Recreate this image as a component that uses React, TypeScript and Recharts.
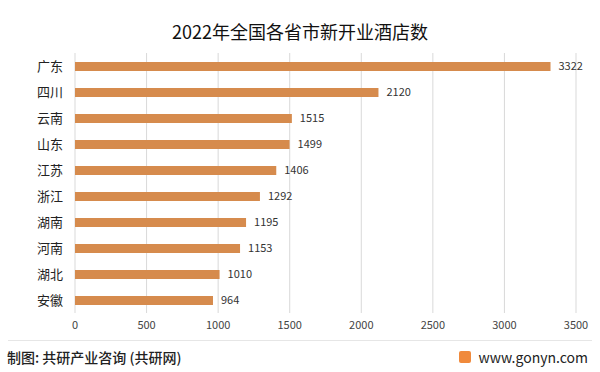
import { BarChart, Bar, XAxis, YAxis, CartesianGrid, LabelList } from "recharts";

const provinces = ["广东", "四川", "云南", "山东", "江苏", "浙江", "湖南", "河南", "湖北", "安徽"];
const hotels = [3322, 2120, 1515, 1499, 1406, 1292, 1195, 1153, 1010, 964];
const xTicks = [0, 500, 1000, 1500, 2000, 2500, 3000, 3500];

const data = provinces.map((name, i) => ({ name, value: hotels[i] }));

const FONT = "'Noto Sans CJK SC', 'Noto Sans', sans-serif";

export default function App() {
  return (
    <div
      style={{
        position: "absolute",
        top: 0,
        left: 0,
        width: 600,
        height: 372,
        background: "#fff",
        fontFamily: FONT,
      }}
    >
      <div
        style={{
          position: "absolute",
          top: 18,
          width: 600,
          textAlign: "center",
          fontSize: 18,
          color: "#111",
        }}
      >
        2022年全国各省市新开业酒店数
      </div>

      <BarChart
        width={600}
        height={372}
        data={data}
        layout="vertical"
        margin={{ top: 53, right: 24, bottom: 34, left: 0 }}
        barCategoryGap={0}
      >
        <CartesianGrid horizontal={false} stroke="#d9d9d9" />
        <XAxis
          type="number"
          domain={[0, 3500]}
          ticks={xTicks}
          axisLine={false}
          tickLine={false}
          height={25}
          tick={{ fontSize: 11, fill: "#444", fontFamily: FONT }}
          interval={0}
        />
        <YAxis
          type="category"
          dataKey="name"
          width={75}
          axisLine={false}
          tickLine={false}
          tickMargin={6}
          tick={{ fontSize: 13, fill: "#222", fontFamily: FONT }}
        />
        <Bar dataKey="value" fill="#D68B4D" barSize={9} isAnimationActive={false}>
          <LabelList
            dataKey="value"
            position="right"
            offset={8}
            style={{ fontSize: 11, fill: "#333", fontFamily: FONT }}
          />
        </Bar>
      </BarChart>

      <div
        style={{
          position: "absolute",
          top: 340,
          left: 8,
          width: 584,
          height: 1,
          background: "#e6e6e6",
        }}
      />
      <div
        style={{
          position: "absolute",
          top: 347,
          left: 7,
          fontSize: 14,
          fontWeight: 500,
          color: "#222",
        }}
      >
        制图: 共研产业咨询 (共研网)
      </div>
      <div
        style={{
          position: "absolute",
          top: 347,
          right: 12,
          fontSize: 14,
          color: "#222",
          display: "flex",
          alignItems: "center",
        }}
      >
        <span
          style={{
            display: "inline-block",
            width: 12,
            height: 12,
            background: "#f08a3c",
            borderRadius: 2,
            marginRight: 8,
          }}
        />
        www.gonyn.com
      </div>
    </div>
  );
}
